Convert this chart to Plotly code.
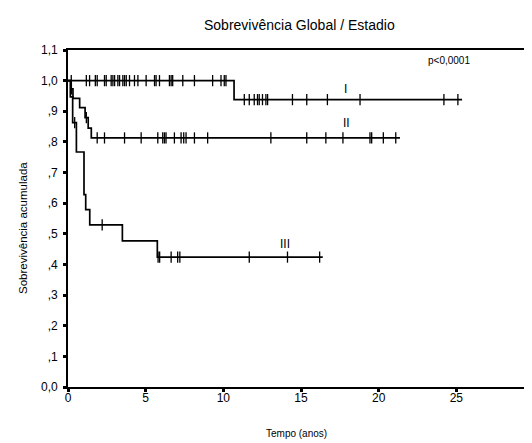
import numpy as np
import plotly.graph_objects as go

# ---- data ----
# Stage I
step_t_I = [0.0, 10.69]
step_s_I = [1.0, 0.938]
end_t_I = 25.37
cens_t_I = [0.21, 1.18, 1.39, 1.76, 1.88, 2.35, 2.46, 2.78, 2.89, 3.0, 3.21, 3.32, 3.53,
            3.64, 3.75, 3.96, 4.28, 4.5, 5.03, 5.57, 5.67, 5.89, 6.53, 6.64, 6.74, 7.39,
            8.14, 9.31, 9.85, 10.06, 10.17,
            11.35, 11.67, 11.99, 12.2, 12.31, 12.52, 12.74, 12.85, 14.45, 15.37, 16.7,
            18.8, 24.2, 25.1]

# Stage II
step_t_II = [0.0, 0.2, 0.32, 0.75, 1.1, 1.3, 1.5]
step_s_II = [1.0, 0.973, 0.942, 0.912, 0.879, 0.845, 0.813]
end_t_II = 21.37
cens_t_II = [0.22, 1.18, 1.88, 2.35, 3.64, 4.71, 5.78, 6.1, 6.21, 6.31, 6.85, 7.28, 7.45,
             7.6, 8.14, 8.99, 13.06, 15.37, 16.6, 17.7, 19.44, 19.55, 20.3, 21.1]

# Stage III
step_t_III = [0.0, 0.15, 0.3, 0.54, 1.03, 1.14, 1.4, 3.5, 5.75]
step_s_III = [1.0, 0.947, 0.863, 0.767, 0.628, 0.579, 0.529, 0.477, 0.424]
end_t_III = 16.4
cens_t_III = [0.43, 2.2, 5.8, 5.9, 6.64, 7.06, 7.2, 11.67, 14.13, 16.2]

series_names = ["I", "II", "III"]
label_pos_t = [17.84, 17.9, 13.95]
label_pos_s = [0.974, 0.863, 0.466]

y_tick_vals = [0.0, 0.1, 0.2, 0.3, 0.4, 0.5, 0.6, 0.7, 0.8, 0.9, 1.0, 1.1]
y_tick_text = ["0,0", ",1", ",2", ",3", ",4", ",5", ",6", ",7", ",8", ",9", "1,0", "1,1"]
x_tick_vals = [0, 5, 10, 15, 20, 25, 30]
x_tick_text = ["0", "5", "10", "15", "20", "25", "30"]

p_text = "p<0,0001"
title_text = "Sobrevivência Global / Estadio"
x_title = "Tempo (anos)"
y_title = "Sobrevivência acumulada"

FONT = "Liberation Sans, Arial, sans-serif"

fig = go.Figure()

curves = [
    (step_t_I, step_s_I, end_t_I, cens_t_I),
    (step_t_II, step_s_II, end_t_II, cens_t_II),
    (step_t_III, step_s_III, end_t_III, cens_t_III),
]

for name, (st, ss, et, ct) in zip(series_names, curves):
    xs = list(st) + [et]
    ys = list(ss) + [ss[-1]]
    fig.add_trace(go.Scatter(x=xs, y=ys, mode="lines", line=dict(color="black", width=1.7, shape="hv"),
                             name=name, showlegend=False, hoverinfo="skip"))
    st_arr = np.array(st)
    ss_arr = np.array(ss)
    idx = np.searchsorted(st_arr, np.array(ct), side="right") - 1
    cy = ss_arr[idx]
    fig.add_trace(go.Scatter(x=ct, y=cy, mode="markers",
                             marker=dict(symbol="line-ns", size=8, line=dict(color="black", width=1.3)),
                             showlegend=False, hoverinfo="skip"))

for name, lx, ly in zip(series_names, label_pos_t, label_pos_s):
    fig.add_annotation(x=lx, y=ly, text=name, showarrow=False,
                       font=dict(family=FONT, size=12, color="#000000"))

fig.add_annotation(x=24.55, y=1.066, text=p_text, showarrow=False,
                   font=dict(family=FONT, size=10, color="black"))

# title and axis titles placed in pixel-like paper coordinates
fig.add_annotation(xref="paper", yref="paper", x=(291 - 60) / 466, y=1 + (42 - 17) / 337,
                   text=title_text, showarrow=False, xanchor="center", yanchor="middle",
                   font=dict(family=FONT, size=14, color="black"))
fig.add_annotation(xref="paper", yref="paper", x=(288.5 - 60) / 466, y=-(425 - 379) / 337,
                   text=x_title, showarrow=False, xanchor="center", yanchor="middle",
                   font=dict(family=FONT, size=10, color="black"))
fig.add_annotation(xref="paper", yref="paper", x=-(60 - 15) / 466, y=(379 - 220) / 337,
                   text=y_title, showarrow=False, xanchor="center", yanchor="middle", textangle=-90,
                   font=dict(family=FONT, size=11.5, color="black"))

fig.update_layout(
    width=532, height=443,
    margin=dict(l=60, r=6, t=42, b=64, autoexpand=False),
    paper_bgcolor="white", plot_bgcolor="white",
    xaxis=dict(range=[0, 30], tickvals=x_tick_vals, ticktext=x_tick_text,
               showgrid=False, zeroline=False, showline=True, linecolor="black", linewidth=1.6,
               mirror=True, ticks="outside", ticklen=3, tickwidth=2.5, tickcolor="black",
               ticklabelstandoff=-4, ticklabeloverflow="allow",
               tickfont=dict(family=FONT, size=12, color="black")),
    yaxis=dict(range=[0, 1.1], tickvals=y_tick_vals, ticktext=y_tick_text,
               showgrid=False, zeroline=False, showline=True, linecolor="black", linewidth=1.6,
               mirror=True, ticks="outside", ticklen=3, tickwidth=2.5, tickcolor="black",
               ticklabelstandoff=3, ticklabeloverflow="allow",
               tickfont=dict(family=FONT, size=12, color="black")),
)

fig.write_html("out.html")
